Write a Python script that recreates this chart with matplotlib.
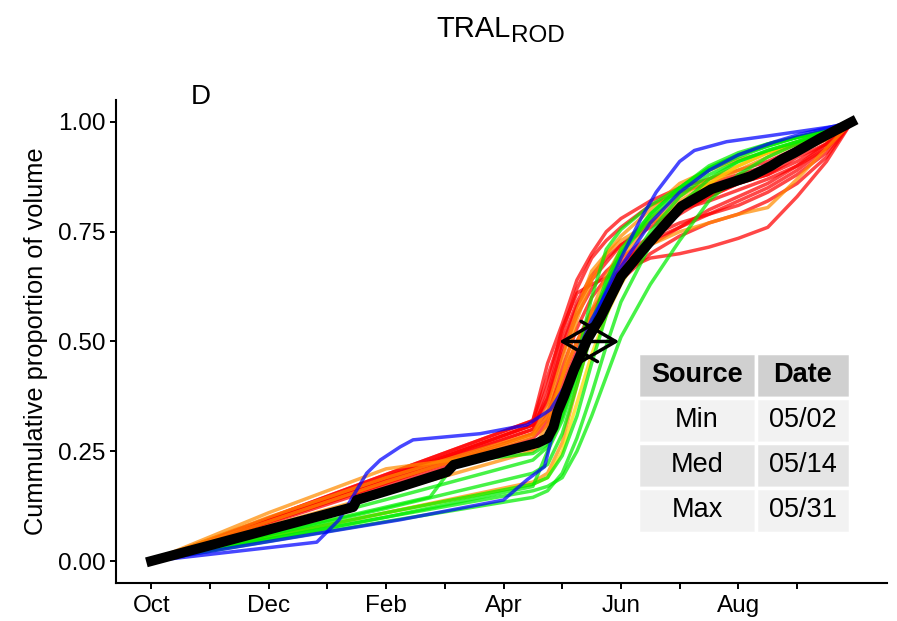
import matplotlib
matplotlib.use('Agg')
import matplotlib.pyplot as plt

plt.rcParams['font.family'] = ['Liberation Sans', 'DejaVu Sans']

# x axis in months since Oct 1
month_ticks = list(range(12))
month_labels = ['Oct', '', 'Dec', '', 'Feb', '', 'Apr', '', 'Jun', '', 'Aug', '']

# common knots for most of the yearly curves
knots = [0, 2, 4, 6.5, 6.75, 7.0, 7.25, 7.5, 7.75, 8.0, 8.5, 9.0, 9.5, 10.0, 10.5, 11.0, 11.5, 11.93]

red_lines = [
    [0, 0.095, 0.19, 0.31, 0.40, 0.53, 0.61, 0.63, 0.645, 0.66, 0.69, 0.70, 0.715, 0.735, 0.76, 0.83, 0.91, 1.0],
    [0, 0.098, 0.197, 0.32, 0.42, 0.52, 0.62, 0.69, 0.73, 0.76, 0.81, 0.84, 0.86, 0.88, 0.90, 0.93, 0.96, 1.0],
    [0, 0.092, 0.185, 0.30, 0.38, 0.50, 0.59, 0.65, 0.69, 0.72, 0.77, 0.80, 0.83, 0.86, 0.88, 0.92, 0.95, 1.0],
    [0, 0.095, 0.19, 0.31, 0.36, 0.47, 0.56, 0.62, 0.66, 0.69, 0.74, 0.77, 0.79, 0.82, 0.85, 0.89, 0.94, 1.0],
    [0, 0.089, 0.178, 0.29, 0.33, 0.44, 0.53, 0.60, 0.645, 0.68, 0.73, 0.76, 0.79, 0.81, 0.84, 0.88, 0.93, 1.0],
    [0, 0.092, 0.185, 0.30, 0.34, 0.42, 0.50, 0.57, 0.62, 0.66, 0.72, 0.76, 0.80, 0.83, 0.86, 0.90, 0.95, 1.0],
    [0, 0.086, 0.172, 0.28, 0.31, 0.38, 0.46, 0.54, 0.60, 0.64, 0.70, 0.74, 0.77, 0.79, 0.82, 0.86, 0.92, 1.0],
    [0, 0.098, 0.197, 0.32, 0.45, 0.54, 0.64, 0.70, 0.75, 0.78, 0.82, 0.85, 0.87, 0.89, 0.91, 0.94, 0.97, 1.0],
    [0, 0.089, 0.178, 0.29, 0.32, 0.40, 0.48, 0.56, 0.62, 0.67, 0.74, 0.79, 0.83, 0.86, 0.88, 0.91, 0.95, 1.0],
    [0, 0.095, 0.19, 0.31, 0.37, 0.49, 0.58, 0.64, 0.68, 0.72, 0.76, 0.80, 0.82, 0.845, 0.87, 0.90, 0.94, 1.0],
]

orange_lines = [
    [0, 0.11, 0.21, 0.255, 0.31, 0.42, 0.55, 0.64, 0.70, 0.74, 0.80, 0.86, 0.89, 0.915, 0.93, 0.95, 0.975, 1.0],
    [0, 0.09, 0.18, 0.285, 0.33, 0.42, 0.50, 0.56, 0.61, 0.66, 0.72, 0.75, 0.77, 0.79, 0.805, 0.87, 0.94, 1.0],
    [0, 0.08, 0.155, 0.25, 0.28, 0.36, 0.47, 0.57, 0.65, 0.71, 0.78, 0.83, 0.87, 0.90, 0.93, 0.95, 0.975, 1.0],
    [0, 0.055, 0.11, 0.18, 0.20, 0.27, 0.40, 0.52, 0.62, 0.69, 0.77, 0.82, 0.86, 0.89, 0.92, 0.95, 0.975, 1.0],
    [0, 0.10, 0.19, 0.29, 0.35, 0.46, 0.57, 0.66, 0.70, 0.73, 0.77, 0.81, 0.84, 0.87, 0.90, 0.93, 0.96, 1.0],
]

yellow_lines = [
    [0, 0.055, 0.11, 0.175, 0.19, 0.25, 0.36, 0.47, 0.56, 0.63, 0.74, 0.81, 0.86, 0.90, 0.93, 0.955, 0.975, 1.0],
]

green_lines = [
    [0, 0.07, 0.14, 0.23, 0.26, 0.34, 0.46, 0.60, 0.71, 0.755, 0.81, 0.85, 0.90, 0.93, 0.95, 0.965, 0.98, 1.0],
    [0, 0.05, 0.10, 0.16, 0.17, 0.19, 0.25, 0.33, 0.42, 0.51, 0.63, 0.73, 0.82, 0.88, 0.92, 0.95, 0.975, 1.0],
    [0, 0.055, 0.11, 0.175, 0.19, 0.24, 0.33, 0.45, 0.56, 0.65, 0.75, 0.83, 0.88, 0.91, 0.935, 0.955, 0.98, 1.0],
    [0, 0.06, 0.12, 0.20, 0.22, 0.29, 0.40, 0.52, 0.62, 0.70, 0.78, 0.84, 0.89, 0.92, 0.945, 0.965, 0.98, 1.0],
    [0, 0.045, 0.09, 0.145, 0.16, 0.20, 0.28, 0.38, 0.49, 0.59, 0.72, 0.81, 0.87, 0.91, 0.935, 0.955, 0.975, 1.0],
    [0, 0.05, 0.10, 0.17, 0.25, 0.32, 0.42, 0.53, 0.63, 0.70, 0.79, 0.85, 0.895, 0.925, 0.95, 0.965, 0.98, 1.0],
]

# curves with their own knots
green_kink_x = [0, 4.75, 5.2, 6.5, 6.8, 7.0, 7.25, 7.5, 7.75, 8.0, 8.5, 9.0, 9.5, 10.0, 10.5, 11.0, 11.5, 11.93]
green_kink_y = [0, 0.146, 0.226, 0.245, 0.27, 0.33, 0.43, 0.54, 0.64, 0.71, 0.79, 0.85, 0.895, 0.925, 0.945, 0.965, 0.98, 1.0]

blue_a_x = [0, 2.82, 3.2, 3.67, 3.9, 4.24, 4.46, 5.6, 6.4, 6.8, 7.1, 7.4, 7.7, 8.0, 8.34, 8.6, 8.8, 9.0, 9.25, 9.8, 10.5, 11.64, 11.93]
blue_a_y = [0, 0.043, 0.094, 0.20, 0.23, 0.26, 0.276, 0.29, 0.31, 0.345, 0.41, 0.50, 0.60, 0.69, 0.78, 0.84, 0.875, 0.91, 0.935, 0.955, 0.968, 0.99, 1.0]

blue_b_x = [0, 4.24, 6.0, 6.4, 6.7, 6.8, 7.0, 7.25, 7.5, 8.0, 8.5, 9.0, 9.5, 10.0, 10.6, 11.0, 11.93]
blue_b_y = [0, 0.094, 0.139, 0.185, 0.215, 0.27, 0.38, 0.47, 0.55, 0.67, 0.77, 0.84, 0.89, 0.925, 0.954, 0.97, 1.0]

median_x = [0, 3.44, 3.5, 4.24, 5.04, 5.15, 6.58, 6.75, 6.85, 6.92, 7.03, 7.2, 7.43, 7.66, 8.0, 8.34,
            8.68, 9.03, 9.54, 10.22, 10.56, 10.74, 10.96, 11.37, 11.93]
median_y = [0, 0.123, 0.139, 0.169, 0.203, 0.219, 0.269, 0.28, 0.305, 0.34, 0.375, 0.436, 0.505, 0.557, 0.648, 0.703,
            0.756, 0.808, 0.847, 0.877, 0.9, 0.915, 0.93, 0.961, 1.0]

# 50% dates
sources = ['Min', 'Med', 'Max']
dates = ['05/02', '05/14', '05/31']
date_months = [6.95, 7.42, 7.97]

fig = plt.figure(figsize=(8.97, 6.21), dpi=100)
ax = fig.add_axes([0.1293, 0.0612, 0.8595, 0.7778])

lw = 2.5
al = 0.72
for y in red_lines:
    ax.plot(knots, y, color='#FF0000', alpha=al, lw=lw, solid_joinstyle='round')
for y in orange_lines:
    ax.plot(knots, y, color='#FF8C00', alpha=al, lw=lw, solid_joinstyle='round')
for y in yellow_lines:
    ax.plot(knots, y, color='#FFD700', alpha=al, lw=lw, solid_joinstyle='round')
for y in green_lines:
    ax.plot(knots, y, color='#00EE00', alpha=al, lw=lw, solid_joinstyle='round')
ax.plot(green_kink_x, green_kink_y, color='#00EE00', alpha=al, lw=lw, solid_joinstyle='round')
ax.plot(blue_a_x, blue_a_y, color='#0000FF', alpha=al, lw=lw, solid_joinstyle='round')
ax.plot(blue_b_x, blue_b_y, color='#0000FF', alpha=al, lw=lw, solid_joinstyle='round')

ax.plot(median_x, median_y, color='black', lw=7.2, solid_joinstyle='round')

# min-max arrow at 50%
ax.annotate('', xy=(date_months[0], 0.5), xytext=(date_months[2], 0.5),
            arrowprops=dict(arrowstyle='<->,head_length=2.5,head_width=1.45', color='black',
                            lw=2.5, shrinkA=0, shrinkB=0, mutation_scale=10))

ax.set_xlim(-0.6, 12.53)
ax.set_ylim(-0.05, 1.05)
ax.set_xticks(month_ticks)
ax.set_xticklabels(month_labels)
ax.set_yticks([0, 0.25, 0.5, 0.75, 1.0])
ax.set_yticklabels(['0.00', '0.25', '0.50', '0.75', '1.00'])
ax.tick_params(axis='both', labelsize=17.5, length=4, width=1.4, color='black', labelcolor='black')
ax.tick_params(axis='x', pad=5)
for s in ['top', 'right']:
    ax.spines[s].set_visible(False)
for s in ['left', 'bottom']:
    ax.spines[s].set_linewidth(1.5)
ax.set_ylabel('Cummulative proportion of volume', fontsize=18.3, labelpad=7)

# table
tbl = ax.table(cellText=[[s, d] for s, d in zip(sources, dates)], colLabels=['Source', 'Date'],
               colWidths=[0.152, 0.121], cellLoc='center', bbox=[0.677, 0.1035, 0.275, 0.373])
tbl.auto_set_font_size(False)
tbl.set_fontsize(19.5)
row_fill = ['#D0D0D0', '#F2F2F2', '#E5E5E5', '#F2F2F2']
for (r, c), cell in tbl.get_celld().items():
    cell.set_edgecolor('white')
    cell.set_linewidth(2.5)
    cell.set_facecolor(row_fill[r])
    if r == 0:
        cell.get_text().set_fontweight('bold')

# title and panel tag
fig.text(0.5697, 0.9404, 'TRAL', fontsize=21, ha='right', va='baseline')
fig.text(0.5697, 0.933, 'ROD', fontsize=17.5, ha='left', va='baseline')
fig.text(0.213, 0.8325, 'D', fontsize=20, ha='left', va='baseline')

fig.savefig('out.png', dpi=100)
